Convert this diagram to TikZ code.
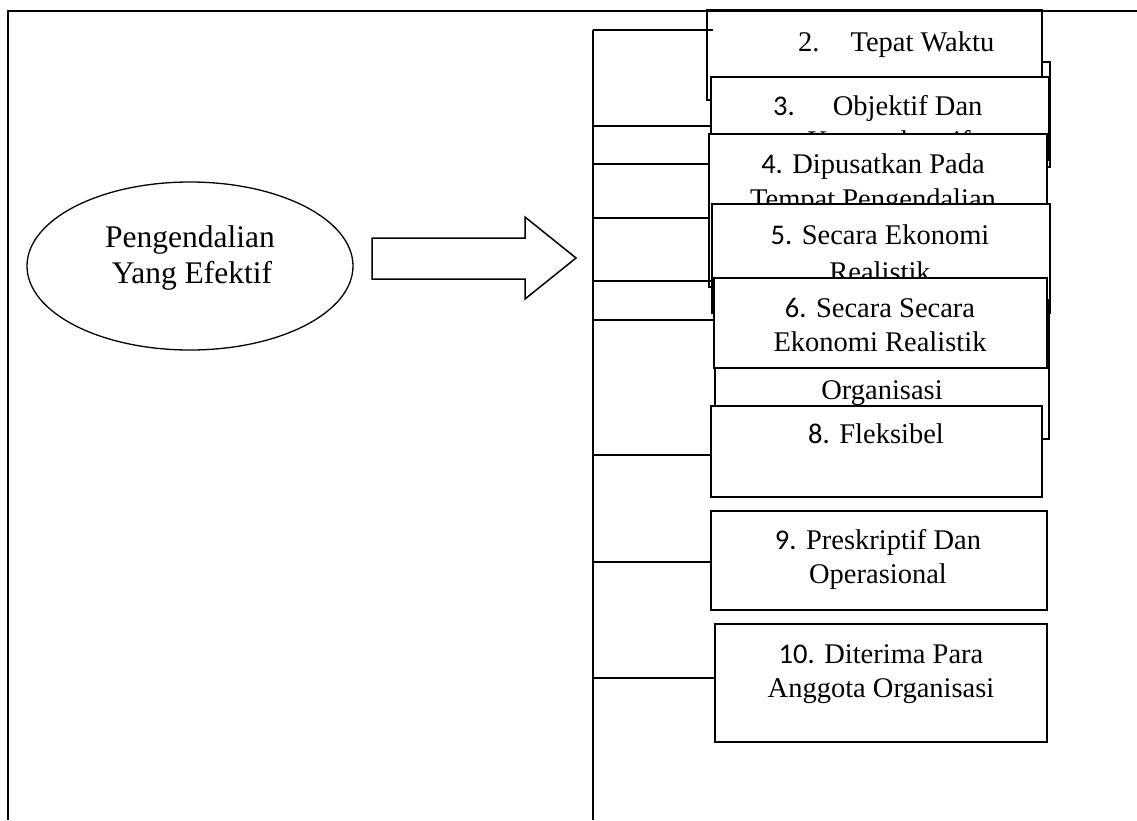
\documentclass[tikz,border=0pt]{standalone}
\usepackage{fontspec}
\setmainfont{Liberation Serif}
\newfontfamily\numf{Carlito}
\usetikzlibrary{shapes.geometric}
% a white card given by its corners: name, x1, y1, x2, y2
\newcommand\putcard[5]{\node[card, minimum width={#4-#2}, minimum height={#5-#3}] (#1) at (#2,#3) {};}
\begin{document}
\begin{tikzpicture}[x=1pt,y=-1pt,
  card/.style={draw=black, fill=white, line width=1.8pt, inner sep=0pt, outer sep=0pt, anchor=north west},
  lbl/.style={anchor=base, inner sep=0pt, font=\fontsize{28.5}{34}\selectfont},
  lblw/.style={lbl, anchor=base west},
  big/.style={anchor=base, inner sep=0pt, font=\fontsize{31.5}{36}\selectfont},
  link/.style={line width=1.8pt},
]
\useasboundingbox (0,0) rectangle (1137,820);
\fill[white] (0,0) rectangle (1137,820);

% central goal and the block arrow
\node[draw, ellipse, line width=1.3pt, minimum width=326, minimum height=168, inner sep=0pt] (goal) at (190,266) {};
\node[big] (goalA) at (190,247) {Pengendalian};
\node[big] (goalB) at (192,283) {Yang Efektif};
\draw[line width=1.5pt, line join=miter]
  (372,238) -- (525,238) -- (525,217) -- (576,258) -- (525,299) -- (525,279) -- (372,279) -- cycle;

% trunk and its branch points
\coordinate (top) at (593,30);
\coordinate (bot) at (593,820);
\coordinate (j1) at (593,30);
\coordinate (j2) at (593,126);
\coordinate (j3) at (593,164);
\coordinate (j4) at (593,218);
\coordinate (j5) at (593,281);
\coordinate (j6) at (593,320);
\coordinate (j7) at (593,455);
\coordinate (j8) at (593,562);
\coordinate (j9) at (593,678);
\draw[link] (top) -- (bot);

% cards, stacked from back to front
\putcard{back}{730}{62}{1050}{167}
\putcard{b2}{707}{10}{1042}{100}
\node[lblw] (t2) at (798,51) {2.\hspace{31pt}Tepat Waktu};
\putcard{b3}{711}{77}{1049}{160}
\node[lblw] (t3a) at (773,115) {{\numf 3.}\hspace{38pt}Objektif Dan};
\node[lbl] (t3b) at (889,150) {Komprehensif};
\putcard{b4}{709}{134}{1047}{287}
\node[lbl] (t4a) at (873,173) {{\numf 4.} Dipusatkan Pada};
\node[lbl] (t4b) at (873,208) {Tempat Pengendalian};
\putcard{b5}{712}{204}{1050}{313}
\node[lbl] (t5a) at (880,244) {{\numf 5.} Secara Ekonomi};
\node[lbl] (t5b) at (880,281) {Realistik};
\putcard{b7}{715}{300}{1049}{439}
\node[lbl] (t7c) at (882,399) {Organisasi};
\putcard{b6}{714}{278}{1047}{368}
\node[lbl] (t6a) at (880,317) {{\numf 6.} Secara Secara};
\node[lbl] (t6b) at (880,351) {Ekonomi Realistik};
\putcard{b8}{711}{406}{1042}{497}
\node[lbl] (t8) at (876,443) {{\numf 8.} Fleksibel};
\putcard{b9}{711}{511}{1047}{610}
\node[lbl] (t9a) at (878,549) {{\numf 9.} Preskriptif Dan};
\node[lbl] (t9b) at (878,583) {Operasional};
\putcard{b10}{715}{624}{1047}{742}
\node[lbl] (t10a) at (881,663) {{\numf 10.} Diterima Para};
\node[lbl] (t10b) at (881,697) {Anggota Organisasi};

% branches from the trunk to the cards
\draw[link] (j1) -- ([xshift=6pt]j1 -| b2.west);
\draw[link] (j2) -- (j2 -| b3.west);
\draw[link] (j3) -- (j3 -| b4.west);
\draw[link] (j4) -- (j4 -| b4.west);
\draw[link] (j5) -- (j5 -| b5.west);
\draw[link] (j6) -- (j6 -| b6.west);
\draw[link] (j7) -- (j7 -| b8.west);
\draw[link] (j8) -- (j8 -| b9.west);
\draw[link] (j9) -- (j9 -| b10.west);

% outer frame
\draw[line width=2pt] (8,820) -- (8,10.5) -- (1137,10.5);
\end{tikzpicture}
\end{document}
